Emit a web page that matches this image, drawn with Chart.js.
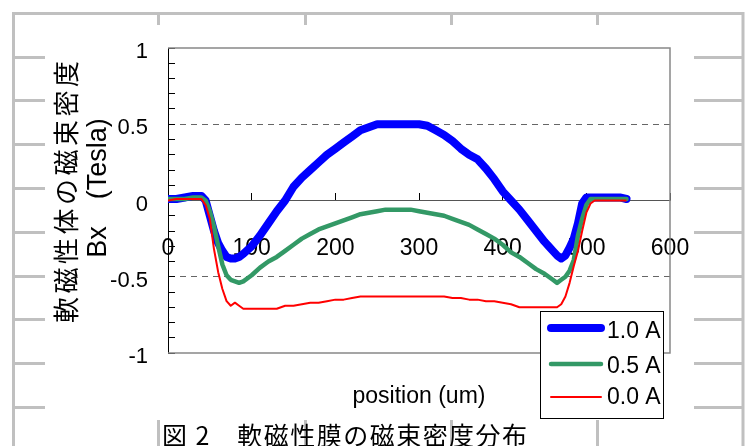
<!DOCTYPE html>
<html><head><meta charset="utf-8">
<script src="https://cdn.jsdelivr.net/npm/chart.js@4/dist/chart.umd.min.js"></script>
<style>html,body{margin:0;padding:0;background:#fff;}canvas{display:block;}</style>
</head><body>
<canvas id="c" width="747" height="446"></canvas>
<script>
// ---- data ----
const positions = [0,10,20,30,40,45,50,55,60,65,70,75,80,85,90,
  100,110,120,130,140,150,160,170,180,190,200,210,220,230,240,250,260,270,280,290,300,
  310,320,330,340,350,360,370,380,390,400,410,420,430,440,450,
  455,460,465,470,475,480,485,490,495,500,505,510,520,530,540,548];
const seriesLabels = ['1.0 A', '0.5 A', '0.0 A'];
const bx10 = [0.01,0.01,0.02,0.03,0.03,0.0,-0.1,-0.2,-0.28,-0.33,-0.37,-0.38,-0.38,-0.37,-0.35,
  -0.30,-0.23,-0.15,-0.07,0.0,0.09,0.15,0.2,0.25,0.3,0.34,0.38,0.42,0.46,0.48,0.5,0.5,0.5,0.5,0.5,0.5,
  0.49,0.46,0.43,0.39,0.34,0.3,0.27,0.21,0.14,0.06,0.0,-0.06,-0.13,-0.2,-0.27,
  -0.3,-0.33,-0.36,-0.38,-0.36,-0.31,-0.25,-0.15,-0.02,0.02,0.02,0.02,0.02,0.02,0.02,0.01];
const bx05 = [0.01,0.01,0.01,0.02,0.02,0.0,-0.07,-0.17,-0.3,-0.42,-0.49,-0.52,-0.53,-0.54,-0.53,
  -0.49,-0.44,-0.4,-0.37,-0.33,-0.29,-0.25,-0.22,-0.19,-0.17,-0.15,-0.13,-0.11,-0.09,-0.08,-0.07,-0.06,-0.06,-0.06,-0.06,-0.07,
  -0.08,-0.09,-0.1,-0.12,-0.14,-0.16,-0.19,-0.22,-0.25,-0.29,-0.34,-0.37,-0.41,-0.45,-0.48,
  -0.5,-0.52,-0.54,-0.52,-0.5,-0.46,-0.39,-0.23,-0.12,-0.03,0.01,0.01,0.01,0.01,0.01,0.01];
const bx00 = [0.0,0.01,0.01,0.01,0.01,-0.03,-0.12,-0.32,-0.47,-0.58,-0.66,-0.69,-0.67,-0.69,-0.71,
  -0.71,-0.71,-0.71,-0.71,-0.69,-0.69,-0.68,-0.67,-0.67,-0.66,-0.65,-0.65,-0.64,-0.63,-0.63,-0.63,-0.63,-0.63,-0.63,-0.63,-0.63,
  -0.63,-0.63,-0.63,-0.64,-0.64,-0.65,-0.65,-0.66,-0.66,-0.67,-0.68,-0.7,-0.7,-0.7,-0.7,
  -0.7,-0.7,-0.7,-0.68,-0.63,-0.54,-0.43,-0.33,-0.2,-0.08,-0.02,0.0,0.0,0.0,0.0,0.0];
const xTickValues = [0,100,200,300,400,500,600];
const yTickLabels = ['-1','-0.5','0','0.5','1'];
const xTitle = 'position (um)';
const yTitle1 = '軟磁性体の磁束密度';
const yTitle2 = 'Bx　(Tesla)';
const caption = '図 2　軟磁性膜の磁束密度分布';

const LAT = '"Liberation Sans", Arial, sans-serif';
const CJK = '"Noto Sans CJK JP", "Noto Sans CJK SC", sans-serif';
const toPts = arr => positions.map((x, i) => ({x: x, y: arr[i]}));

// draw text left-aligned so that it spans exactly `width` pixels
function fitText(c, text, x, y, width) {
  c.letterSpacing = '0px';
  const w = c.measureText(text).width;
  const n = Array.from(text).length;
  const s = (width - w) / Math.max(n - 1, 1);
  c.letterSpacing = s.toFixed(2) + 'px';
  c.textAlign = 'left';
  c.fillText(text, x, y);
  c.letterSpacing = '0px';
}

const decor = {
  id: 'decor',
  beforeDraw(chart) {
    const c = chart.ctx;
    c.save();
    c.fillStyle = '#fff';
    c.fillRect(0, 0, chart.width, chart.height);
    c.strokeStyle = '#c0c0c0';
    c.lineWidth = 3;
    c.beginPath();
    c.moveTo(13.5, 446); c.lineTo(13.5, 13.5); c.lineTo(743, 13.5); c.lineTo(743, 446);
    c.stroke();
    const ys = [57,100,144,188,232,276,319,363,407];
    c.beginPath();
    ys.forEach(y => { c.moveTo(13, y + 0.5); c.lineTo(45, y + 0.5); c.moveTo(694, y + 0.5); c.lineTo(743, y + 0.5); });
    [158,305,451,597].forEach(x => { c.moveTo(x + 0.5, 13); c.lineTo(x + 0.5, 25); c.moveTo(x + 0.5, 420); c.lineTo(x + 0.5, 446); });
    c.stroke();
    c.restore();
  },
  afterDraw(chart) {
    const c = chart.ctx;
    const a = chart.chartArea;
    c.save();
    // plot frame (top, right, bottom)
    c.strokeStyle = '#888';
    c.lineWidth = 1.5;
    c.beginPath();
    c.moveTo(a.left, a.top); c.lineTo(a.right, a.top); c.lineTo(a.right, a.bottom); c.lineTo(a.left, a.bottom);
    c.stroke();
    // x title
    c.fillStyle = '#000';
    c.font = '23px ' + LAT;
    c.textAlign = 'center';
    c.textBaseline = 'middle';
    c.fillText(xTitle, (a.left + a.right) / 2, 397);
    // y title (two lines, rotated)
    c.save();
    c.translate(66, 0);
    c.rotate(-Math.PI / 2);
    c.font = '26px ' + CJK;
    fitText(c, yTitle1, -323, 0, 262);
    c.restore();
    c.save();
    c.translate(99, 188);
    c.rotate(-Math.PI / 2);
    c.font = '27px ' + LAT;
    c.textAlign = 'center';
    c.fillText(yTitle2, 0, 0);
    c.restore();
    // caption
    c.save();
    c.font = '25px ' + CJK;
    fitText(c, caption, 162, 435, 365);
    c.restore();
    // legend
    c.fillStyle = '#fff';
    c.fillRect(540, 311, 123, 107);
    c.strokeStyle = '#000';
    c.lineWidth = 1;
    c.strokeRect(540.5, 311.5, 123, 107);
    const lineYs = [328, 364, 397];
    const textYs = [332, 367, 398];
    chart.data.datasets.forEach((ds, i) => {
      c.strokeStyle = ds.borderColor;
      c.lineWidth = ds.borderWidth;
      c.lineCap = 'round';
      c.beginPath();
      c.moveTo(551, lineYs[i]); c.lineTo(601, lineYs[i]);
      c.stroke();
      c.fillStyle = '#000';
      c.font = '23px ' + LAT;
      c.textAlign = 'left';
      c.textBaseline = 'middle';
      c.fillText(ds.label, 607, textYs[i]);
    });
    c.restore();
  }
};

new Chart(document.getElementById('c'), {
  type: 'line',
  data: {
    datasets: [
      {label: seriesLabels[0], data: toPts(bx10), borderColor: '#0000ff', borderWidth: 8, order: 3, borderCapStyle: 'round', borderJoinStyle: 'round'},
      {label: seriesLabels[1], data: toPts(bx05), borderColor: '#339966', borderWidth: 4.5, order: 2, borderCapStyle: 'round', borderJoinStyle: 'round'},
      {label: seriesLabels[2], data: toPts(bx00), borderColor: '#ff0000', borderWidth: 2, order: 1, borderJoinStyle: 'round'}
    ]
  },
  options: {
    responsive: false,
    animation: false,
    devicePixelRatio: 1,
    elements: {point: {radius: 0}, line: {tension: 0, fill: false}},
    layout: {padding: {left: 0, top: 48, right: 77, bottom: 93}},
    plugins: {legend: {display: false}, tooltip: {enabled: false}},
    scales: {
      x: {
        type: 'linear', position: {y: 0}, min: 0, max: 600,
        afterBuildTicks: s => { s.ticks = xTickValues.map(v => ({value: v})); },
        ticks: {autoSkip: false, maxRotation: 0, padding: 42, color: '#000', font: {family: LAT, size: 23}},
        grid: {drawOnChartArea: false, tickLength: -8, tickColor: '#000', color: '#000'},
        border: {color: '#555', width: 1}
      },
      y: {
        type: 'linear', position: 'left', min: -1, max: 1,
        ticks: {
          stepSize: 0.1, autoSkip: false, padding: 27, labelOffset: 4, color: '#000',
          font: {family: LAT, size: 22},
          callback: v => {
            const h = Math.round(v * 2);
            if (Math.abs(v * 2 - h) > 1e-6) return '';
            return yTickLabels[h + 2];
          }
        },
        grid: {
          color: ctx => (Math.abs(Math.abs(ctx.tick.value) - 0.5) < 1e-6 ? '#666' : 'rgba(0,0,0,0)'),
          tickColor: '#000', tickLength: -7, lineWidth: 1
        },
        border: {color: '#000', width: 1, dash: [6, 5]},
        afterFit: s => { s.width = 168; }
      }
    }
  },
  plugins: [decor]
});
</script>
</body></html>
